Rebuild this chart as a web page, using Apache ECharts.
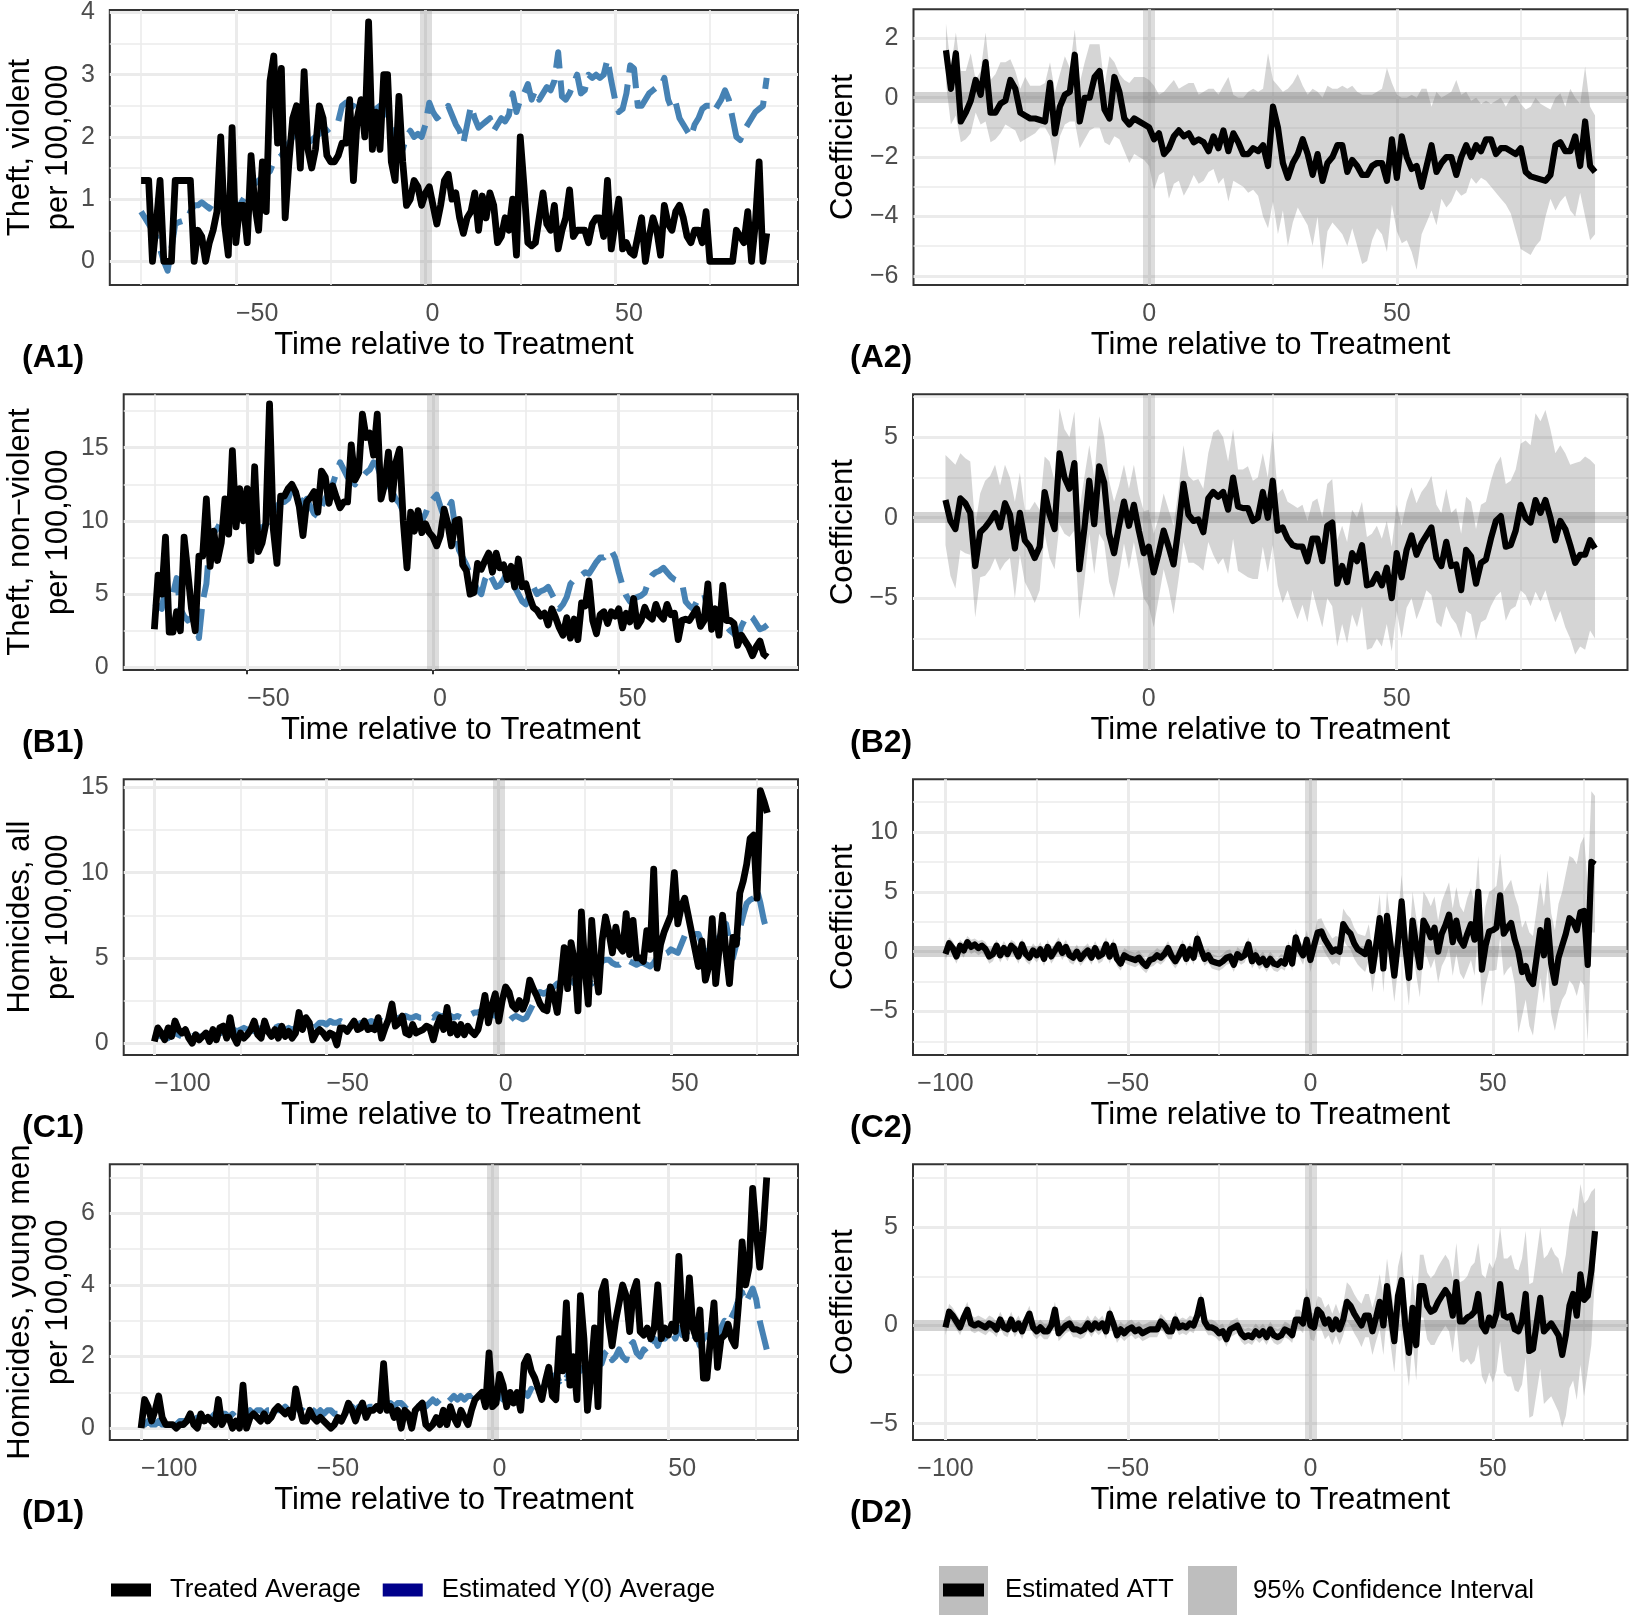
<!DOCTYPE html>
<html><head><meta charset="utf-8">
<script src="https://cdn.jsdelivr.net/npm/echarts@6.0.0/dist/echarts.min.js"></script>
<style>html,body{margin:0;padding:0;background:#fff}#c{width:1630px;height:1618px}</style>
</head><body><div id="c"></div>
<script>
// ---------- DATA ----------
const startLeftAB = -75;   // first period of panels A1, B1
const startRightAB = -41;  // first period of panels A2, B2
const startCD = -100;      // first period of panels C1, C2, D1, D2

const theftViolentTreated = [
1.3,1.3,1.3,0.0,0.6,1.3,0.0,0.0,0.0,1.3,
1.3,1.3,1.3,1.3,0.0,0.5,0.4,0.0,0.3,0.5,
0.8,2.0,0.6,0.1,2.15,0.3,0.9,0.9,0.3,1.7,
0.9,0.5,1.6,0.8,2.9,3.3,1.9,3.1,0.7,1.6,
2.3,2.5,1.5,3.05,1.8,1.5,1.8,2.5,2.3,1.7,
1.6,1.6,1.7,1.9,1.9,2.6,1.3,2.3,2.6,2.0,
3.85,1.8,2.4,1.8,3.0,3.0,1.6,1.3,2.65,1.6,
0.9,1.0,1.3,1.2,0.9,1.1,1.2,0.9,0.6,0.9,
1.3,1.4,1.0,1.1,0.7,0.45,0.7,0.8,1.1,0.5,
1.05,0.7,1.1,0.9,0.3,0.4,0.7,0.5,1.0,0.1,
2.0,1.2,0.3,0.25,0.3,0.7,1.1,0.6,0.5,0.9,
0.2,0.5,0.7,1.15,0.4,0.5,0.5,0.5,0.3,0.6,
0.7,0.7,0.4,1.3,0.2,0.6,1.0,0.2,0.3,0.15,
0.1,0.4,0.7,0.0,0.4,0.7,0.5,0.1,0.9,0.6,
0.5,0.8,0.9,0.7,0.4,0.3,0.5,0.5,0.3,0.8,
0.0,0.0,0.0,0.0,0.0,0.0,0.0,0.5,0.4,0.3,
0.8,0.0,0.6,1.6,0.0,0.45];
const theftViolentY0 = [
0.8,0.7,0.6,0.5,0.4,0.2,0.0,-0.15,0.2,0.6,
0.63,0.65,0.65,0.8,0.9,0.9,0.95,0.9,0.85,0.95,
1.0,0.95,0.9,0.9,0.95,0.9,0.9,1.0,1.1,1.2,
1.25,1.3,1.35,1.4,1.45,1.6,1.65,1.7,1.8,1.9,
2.0,2.1,2.0,1.9,1.9,1.95,2.0,2.05,2.1,2.1,
2.15,2.2,2.25,2.5,2.55,2.5,2.5,2.45,2.4,2.4,
2.35,2.4,2.45,2.5,2.45,2.3,2.2,2.0,1.8,1.8,
2.0,2.1,2.0,2.05,2.0,2.2,2.55,2.4,2.3,2.35,
2.4,2.5,2.35,2.2,2.1,1.9,2.2,2.5,2.3,2.15,
2.2,2.25,2.3,2.1,2.2,2.3,2.25,2.35,2.7,2.4,
2.6,2.7,2.85,2.6,2.75,2.6,2.7,2.8,2.75,2.9,
3.36,2.65,2.6,2.7,2.85,3.0,2.7,2.75,3.0,2.95,
3.0,2.95,3.0,3.25,2.9,2.6,2.4,2.45,2.7,3.15,
3.1,2.5,2.5,2.6,2.7,2.75,2.8,2.8,2.95,2.6,
2.45,2.55,2.3,2.2,2.1,2.0,2.2,2.3,2.45,2.5,
2.5,2.4,2.5,2.6,2.75,2.6,2.3,2.0,1.95,2.1,
2.2,2.3,2.4,2.45,2.5,2.95];
const theftViolentATT = [
1.6,0.3,1.5,-0.8,-0.5,-0.1,0.6,0.1,1.2,-0.5,
-0.5,-0.2,-0.1,0.6,0.3,-0.5,-0.6,-0.7,-0.7,-0.75,
-0.8,0.5,-1.2,-0.3,0.1,0.2,1.45,-0.8,0.0,0.0,
0.7,0.9,-0.4,-0.7,0.7,0.2,-0.7,-0.9,-0.7,-0.8,
-0.9,-1.0,-1.4,-1.2,-1.9,-1.7,-1.3,-1.1,-1.3,-1.2,
-1.5,-1.4,-1.5,-1.8,-1.3,-1.7,-1.1,-1.8,-1.2,-1.5,
-1.9,-1.9,-1.7,-1.8,-1.6,-2.3,-0.3,-1.0,-2.2,-2.7,
-2.2,-1.9,-1.4,-1.9,-2.6,-1.9,-2.8,-2.2,-2.0,-1.6,
-1.6,-2.5,-2.1,-2.3,-2.6,-2.6,-2.3,-2.2,-2.2,-2.8,
-1.4,-2.7,-1.3,-2.0,-2.4,-2.3,-3.0,-2.3,-1.6,-2.5,
-2.2,-2.0,-2.0,-2.6,-2.0,-1.6,-2.0,-1.6,-1.8,-1.4,
-1.4,-1.9,-1.7,-1.7,-1.8,-1.9,-1.7,-2.5,-2.65,-2.7,
-2.75,-2.8,-2.6,-1.6,-1.5,-1.8,-1.8,-1.3,-2.3,-0.8,-2.3,-2.5];
const theftViolentUpper = [
2.5,1.0,2.2,0.9,0.9,1.5,0.6,0.9,2.2,0.6,
0.8,1.2,1.2,1.3,0.9,0.3,0.7,0.4,0.4,0.4,
0.5,1.2,0.2,0.8,1.4,1.0,2.3,0.5,1.2,1.8,
1.8,1.8,0.4,1.4,1.2,0.8,0.6,0.5,0.7,0.7,
0.7,0.6,0.4,0.1,0.2,0.4,0.6,0.3,0.4,0.5,
0.5,0.1,0.2,0.3,0.3,0.1,0.4,0.7,0.1,0.0,
0.0,0.2,0.3,0.2,0.3,1.5,0.6,0.4,0.2,0.3,
0.5,0.8,0.4,0.1,0.3,0.2,0.0,0.4,0.3,0.3,
0.4,0.3,0.4,0.2,0.1,0.1,0.1,0.2,0.3,1.0,
0.5,0.1,0.0,0.0,0.1,0.0,0.3,0.3,-0.3,0.2,
0.0,0.1,0.2,0.6,0.1,0.2,-0.1,0.0,-0.2,-0.1,
-0.2,-0.1,0.0,-0.3,0.0,0.1,-0.2,-0.4,-0.3,0.0,
-0.2,-0.3,-0.4,0.0,0.15,-0.3,0.3,0.0,-0.2,1.05,-0.3,-0.6];
const theftViolentLower = [
0.5,-0.9,-0.6,-1.5,-1.4,-1.2,-0.5,-0.9,-0.8,-1.5,
-1.4,-1.2,-0.9,-1.0,-1.1,-1.5,-1.4,-1.3,-1.2,-1.0,
-1.0,-1.3,-2.3,-1.3,-0.9,-0.8,-0.8,-1.7,-1.4,-1.1,
-1.0,-1.0,-1.5,-1.6,-1.3,-1.4,-1.8,-2.2,-1.9,-2.0,
-2.1,-2.3,-3.1,-2.6,-2.5,-3.4,-2.9,-2.8,-3.3,-3.0,
-2.6,-2.9,-2.8,-2.5,-2.4,-2.9,-2.7,-3.5,-2.8,-2.9,
-3.0,-3.2,-3.1,-3.3,-4.0,-4.4,-3.5,-4.6,-3.8,-5.0,
-4.2,-3.7,-4.0,-4.3,-5.0,-4.0,-5.8,-4.5,-4.2,-4.4,
-4.6,-5.0,-4.4,-5.0,-5.6,-5.5,-4.8,-4.4,-4.6,-5.2,
-3.6,-4.5,-4.9,-4.8,-5.2,-5.8,-4.6,-4.2,-3.8,-4.3,
-3.4,-3.7,-3.5,-3.1,-3.3,-3.2,-2.7,-2.9,-2.7,-2.8,
-3.0,-3.2,-3.4,-3.6,-3.9,-4.5,-5.1,-5.2,-5.3,-5.0,
-4.8,-4.0,-3.4,-3.8,-3.5,-3.3,-3.8,-4.0,-3.2,-4.0,-4.8,-4.6];

const theftNonviolentTreated = [
2.6,6.3,5.0,8.9,2.4,2.4,3.8,2.5,8.9,6.5,
4.0,2.5,7.6,7.6,11.5,6.9,9.3,7.3,8.5,11.5,
9.1,14.8,9.6,12.2,10.0,12.2,7.3,13.7,7.9,8.5,
9.8,18.0,9.5,7.1,11.7,11.7,12.2,12.5,12.0,11.0,
9.0,11.3,11.6,12.0,10.6,13.4,13.0,11.2,12.4,11.6,
10.9,11.3,11.3,15.2,12.8,13.3,17.3,15.7,16.0,14.5,
17.3,11.5,12.5,14.7,11.5,14.0,14.9,10.0,6.8,10.6,
9.3,10.7,9.2,9.8,9.2,8.9,8.3,9.0,10.8,9.8,
8.3,10.0,10.1,7.0,6.6,5.0,5.1,7.1,6.7,7.3,
7.8,6.5,7.8,6.8,7.0,6.0,6.9,5.5,7.4,5.5,
5.7,4.8,4.1,3.9,3.5,3.7,2.9,4.0,3.4,2.7,
2.2,3.4,2.0,3.3,1.9,4.4,4.2,5.9,3.2,2.3,
3.6,3.8,3.0,3.8,3.5,4.0,2.7,3.7,3.1,4.7,
2.8,3.2,4.1,3.5,3.3,4.3,3.6,3.3,4.3,3.6,
3.7,1.9,3.2,3.3,3.2,3.6,4.0,2.8,3.2,5.7,
2.6,4.0,2.2,5.6,3.2,3.2,3.0,1.5,2.2,1.8,
1.4,0.8,1.4,1.8,0.9,0.7];
const theftNonviolentY0 = [
4.4,4.2,4.0,5.5,5.2,5.0,6.1,4.0,3.5,3.2,
3.4,3.5,2.0,4.5,5.7,8.9,9.2,9.5,10.0,10.5,
10.2,10.5,10.0,10.8,11.0,10.5,10.0,9.8,9.6,9.5,
9.8,10.0,10.5,11.0,11.3,11.3,11.5,12.2,12.0,11.6,
11.2,11.5,11.0,10.5,10.3,11.0,11.5,12.0,12.5,13.3,
14.0,13.5,13.0,12.8,12.5,12.8,13.0,13.3,13.5,14.0,
13.8,13.0,12.5,12.5,12.0,11.5,11.2,10.6,10.0,9.5,
9.8,10.0,10.0,10.5,11.2,11.5,11.8,11.0,10.2,10.8,
11.3,9.5,8.0,7.5,7.0,6.3,5.8,5.3,5.0,6.0,
6.5,6.0,5.5,5.6,6.0,6.5,6.0,5.5,5.0,4.5,
4.3,5.0,5.5,5.0,5.2,5.3,5.5,5.0,4.5,4.0,
4.3,4.8,5.7,6.0,6.1,6.3,6.5,6.4,6.8,7.2,
7.5,7.5,7.8,8.0,7.5,6.5,5.6,4.9,4.5,4.7,
4.8,4.9,5.1,5.9,6.3,6.5,6.6,6.8,6.5,6.2,
6.0,5.9,5.8,4.5,4.2,4.0,4.5,4.8,5.0,4.0,
3.6,3.3,3.0,3.0,2.8,2.5,2.3,2.0,2.8,3.3,
3.6,3.4,3.0,2.6,2.7,2.9];
const theftNonviolentATT = [
1.1,-0.2,-0.7,1.2,0.9,0.3,-3.0,-0.9,-0.6,-0.2,
0.3,-0.6,0.9,0.2,-1.9,0.3,-1.4,-1.8,-2.5,-1.8,
1.6,0.2,-0.7,4.0,2.5,1.8,3.4,-3.2,-0.7,2.3,
-0.4,3.2,2.2,-1.0,-2.2,-0.5,1.0,-0.5,0.8,-0.8,
-2.2,-1.8,-3.4,-2.2,-0.8,-1.8,-2.9,-0.6,2.1,0.2,
-0.2,-0.1,-0.9,1.2,1.6,1.3,1.6,0.5,2.5,0.7,
0.6,0.6,-0.2,0.0,1.6,0.0,2.3,-0.8,-0.6,-1.3,
-1.7,-1.8,-1.8,-2.7,-1.3,-1.3,-2.7,-0.5,-0.3,-4.1,
-3.0,-4.0,-2.2,-2.7,-1.7,-4.2,-4.1,-3.5,-4.2,-3.1,
-5.0,-2.2,-3.7,-2.0,-1.1,-2.3,-1.6,-1.1,-0.6,-2.5,
-3.0,-1.5,-3.0,-2.9,-4.5,-2.0,-2.4,-4.1,-2.8,-2.6,
-1.3,-0.2,0.1,-1.8,-1.7,-0.8,0.8,0.0,-0.3,1.1,
0.3,1.1,0.0,-1.4,-0.2,-0.7,-1.7,-2.8,-2.3,-2.3,-1.4,-1.9];
const theftNonviolentUpper = [
3.9,3.6,3.3,4.0,3.7,3.5,-0.5,1.5,2.3,2.6,
3.3,2.0,3.3,2.5,1.0,2.8,0.5,0.5,1.0,0.5,
3.8,3.5,2.3,6.8,5.5,5.0,6.6,0.5,2.5,4.5,
2.5,6.3,5.0,2.3,1.0,2.0,3.3,1.8,3.3,1.5,
0.4,0.5,-1.0,0.0,1.5,0.5,-0.5,1.8,4.5,2.6,
2.3,2.4,1.8,4.0,5.3,5.5,5.0,3.5,5.5,3.0,
3.0,3.2,2.3,2.5,4.0,2.5,5.4,1.5,1.8,1.0,
0.8,0.6,0.8,-0.2,1.0,1.2,0.0,2.1,2.4,-1.4,
-0.5,-1.5,0.5,0.0,1.0,-1.2,-1.0,-0.5,-1.3,-0.2,
-1.8,0.8,-0.5,1.0,1.9,0.9,1.6,2.0,2.6,0.8,
0.3,1.8,0.3,0.6,-1.0,1.3,1.0,-0.7,0.8,1.0,
2.3,3.3,3.8,2.1,2.3,3.0,4.6,4.8,4.5,6.5,
6.0,6.7,5.5,4.0,4.5,4.0,3.3,3.4,3.5,3.8,3.6,3.3];
const theftNonviolentLower = [
-1.7,-3.6,-4.4,-2.0,-2.2,-2.3,-6.2,-3.7,-3.6,-3.2,
-2.5,-3.3,-2.8,-2.5,-5.0,-2.3,-4.0,-4.6,-5.3,-4.5,
-1.0,-2.5,-3.2,-0.4,-1.0,-1.2,-0.8,-6.3,-4.0,-1.0,
-3.5,-1.0,-1.5,-4.0,-5.0,-3.5,-1.6,-3.2,-1.5,-3.2,
-5.0,-5.5,-6.8,-5.0,-3.2,-4.4,-6.0,-3.8,-1.5,-2.8,
-2.8,-3.0,-3.3,-1.5,-2.3,-2.9,-2.5,-3.5,-1.3,-3.3,
-3.5,-3.7,-3.8,-3.8,-1.8,-3.4,-1.7,-4.2,-5.3,-4.5,
-5.5,-6.3,-5.4,-6.5,-4.5,-5.7,-6.8,-5.0,-5.5,-8.0,
-6.6,-7.8,-6.0,-6.8,-5.5,-8.2,-8.1,-7.5,-8.0,-6.6,
-8.3,-5.8,-7.5,-5.6,-5.0,-6.3,-5.5,-4.5,-4.8,-6.5,
-6.8,-5.5,-6.2,-6.6,-7.5,-5.8,-6.0,-7.6,-6.5,-6.3,
-5.5,-4.9,-4.6,-6.4,-5.7,-5.5,-4.5,-4.8,-5.5,-4.6,
-5.2,-4.5,-5.6,-6.5,-5.8,-6.8,-7.5,-8.5,-8.0,-8.2,-7.0,-7.5];

const homicidesAllTreated = [
0.1,0.9,0.6,0.2,0.9,0.4,1.3,0.8,0.6,0.8,
0.3,0.0,0.5,0.2,0.4,0.6,0.1,0.8,0.2,0.9,
1.0,0.3,1.5,0.4,0.0,0.6,0.3,0.5,0.8,1.3,
0.5,0.3,1.3,0.7,0.4,0.8,0.3,1.0,0.4,0.7,
0.3,0.6,1.8,0.8,1.5,1.2,0.2,0.6,0.8,0.6,
0.3,0.6,0.5,-0.1,0.9,0.9,0.7,1.0,1.3,0.8,
0.9,1.3,0.8,0.9,0.8,1.5,0.3,0.9,1.4,2.3,
1.0,1.2,1.6,0.6,0.5,1.1,0.6,0.7,0.8,1.0,
0.9,0.2,1.0,1.5,0.8,2.1,0.6,1.1,0.5,1.1,
0.5,1.0,0.7,0.5,0.8,1.7,2.8,1.2,2.2,2.9,
1.3,2.5,3.3,3.0,2.2,2.0,2.5,2.0,2.5,3.7,
3.2,2.8,2.3,2.0,1.9,3.3,2.8,1.8,3.6,5.6,
3.2,5.9,4.8,1.9,7.7,4.5,2.3,7.2,4.5,3.0,
6.0,7.4,6.5,5.3,6.8,5.7,5.4,7.6,5.2,7.2,
5.0,5.0,4.8,6.6,5.5,10.2,4.4,5.8,6.5,7.0,
7.5,10.0,7.0,8.0,8.5,7.5,6.5,5.5,4.5,6.0,
3.7,4.5,7.3,3.5,5.5,7.5,5.3,3.5,6.2,5.8,
8.8,9.5,10.5,12.0,12.2,8.5,14.8,14.2,13.5];
const homicidesAllY0 = [
0.3,0.5,0.4,0.4,0.3,0.5,0.6,0.5,0.4,0.4,
0.3,0.4,0.5,0.4,0.4,0.5,0.5,0.6,0.5,0.6,
0.6,0.7,0.7,0.8,0.7,0.8,0.9,0.8,0.8,0.7,
0.8,0.9,0.9,1.0,0.9,0.9,1.0,0.8,0.8,0.9,
0.8,0.9,1.0,1.0,0.9,0.9,0.9,1.0,1.2,1.2,
1.1,1.3,1.2,1.2,1.3,1.2,1.2,1.3,1.2,1.1,
1.2,1.1,1.2,1.3,1.2,1.3,1.3,1.2,1.3,1.4,
1.4,1.5,1.4,1.6,1.5,1.5,1.6,1.5,1.5,1.6,
1.6,1.5,1.7,1.6,1.6,1.7,1.6,1.5,1.6,1.5,
1.5,1.6,1.7,1.8,1.8,1.9,1.9,1.8,1.7,1.6,
1.5,1.4,1.2,1.3,1.5,1.6,1.5,1.4,1.5,1.9,
2.3,2.7,3.0,2.9,3.0,3.2,3.3,3.5,3.5,3.8,
4.0,3.7,3.5,3.8,4.0,4.0,3.7,3.5,4.0,4.5,
4.8,4.9,4.9,4.7,4.6,4.6,4.8,4.9,4.8,4.7,
4.6,4.7,4.7,4.6,4.5,4.7,5.0,5.1,5.2,5.3,
5.5,5.4,5.3,5.8,6.3,6.5,6.5,6.4,6.4,5.8,
5.2,5.5,6.0,6.1,6.2,6.6,7.0,6.0,5.0,5.8,
6.7,7.5,8.2,8.4,8.5,9.0,8.2,7.2,6.5];
const homicidesAllATT = [
-0.2,0.7,0.3,-0.4,0.5,0.1,0.8,0.4,0.6,0.3,
0.5,0.2,-0.4,-0.2,0.5,-0.3,0.3,-0.2,0.5,0.2,
-0.4,0.6,-0.2,-0.5,0.1,-0.3,0.2,-0.6,0.4,-0.4,
0.1,0.6,-0.1,0.4,-0.3,-0.5,0.0,-0.6,-0.2,0.1,
-0.5,0.3,-0.4,-0.2,0.6,-0.4,0.5,-0.6,-1.0,-0.3,
-0.5,-0.6,-0.7,-0.5,-0.9,-1.2,-0.7,-0.6,-0.3,-0.5,
-0.2,0.3,-0.4,-0.8,-0.3,0.4,-0.6,0.2,-0.5,1.1,
0.2,-0.6,-0.3,-0.8,-0.9,-1.0,-0.8,-0.5,-0.4,-1.1,
-0.2,-0.5,-0.3,0.6,-0.8,-0.3,-0.9,-0.6,-1.1,-0.6,
-1.0,-1.1,-0.8,-1.0,0.3,-1.0,1.2,0.2,-0.3,1.0,
-0.7,0.5,1.6,1.7,1.0,0.5,0.0,0.2,0.0,2.3,
1.8,1.5,0.7,0.2,0.0,-0.2,0.8,-1.6,0.5,2.8,
-1.4,3.0,0.5,-2.0,0.8,4.2,0.5,-2.2,2.6,0.5,
-1.3,2.6,2.0,1.2,2.0,0.0,1.5,2.2,3.1,0.8,
2.6,1.0,0.5,1.5,2.3,1.0,5.0,-1.5,0.5,1.7,
1.8,2.0,4.7,1.5,2.0,2.4,1.0,0.0,-1.7,-1.2,
-2.3,-2.7,-0.5,1.8,-0.3,2.6,-1.0,-2.6,-0.5,0.5,
1.5,2.8,2.5,1.8,3.3,3.4,-1.1,7.5,7.3];
const homicidesAllUpper = [
0.3,1.2,0.9,0.2,1.0,0.7,1.3,1.0,1.1,0.9,
1.0,0.8,0.2,0.4,1.0,0.3,0.9,0.4,1.0,0.8,
0.2,1.1,0.4,0.1,0.7,0.3,0.8,0.0,1.0,0.2,
0.7,1.2,0.5,1.0,0.3,0.1,0.6,0.0,0.4,0.7,
0.1,0.9,0.2,0.4,1.2,0.2,1.1,0.0,-0.4,0.3,
0.1,0.0,-0.1,0.1,-0.3,-0.6,-0.1,0.0,0.3,0.1,
0.4,0.9,0.2,-0.2,0.3,1.0,0.0,0.8,0.1,1.8,
0.8,0.0,0.3,-0.2,-0.3,-0.4,-0.2,0.1,0.2,-0.5,
0.4,0.1,0.3,1.2,-0.2,0.3,-0.3,0.0,-0.5,0.0,
-0.4,-0.5,-0.2,-0.4,0.9,-0.4,1.9,0.9,0.5,1.8,
0.3,1.5,2.7,2.8,2.1,1.6,1.1,1.3,1.2,3.6,
3.1,2.8,2.0,1.5,1.4,1.3,2.3,0.2,2.4,4.8,
0.6,5.0,2.6,0.2,3.0,6.4,2.8,0.2,5.0,2.9,
1.2,5.0,4.5,3.8,4.6,2.6,4.2,5.0,5.8,3.6,
5.4,3.8,3.3,4.5,5.3,4.0,8.0,1.6,3.8,5.0,
5.2,5.5,8.2,5.0,5.5,6.0,4.7,3.8,2.0,2.6,
1.6,1.3,3.5,5.8,3.8,6.8,3.2,1.8,4.0,5.0,
6.5,8.0,7.8,7.3,9.0,9.6,5.5,13.4,13.0];
const homicidesAllLower = [
-0.7,0.2,-0.3,-1.0,-0.1,-0.5,0.3,-0.2,0.0,-0.3,
-0.1,-0.4,-1.0,-0.8,-0.1,-0.9,-0.3,-0.8,-0.1,-0.4,
-1.0,0.0,-0.8,-1.1,-0.5,-0.9,-0.4,-1.2,-0.2,-1.0,
-0.5,0.0,-0.7,-0.2,-0.9,-1.1,-0.6,-1.2,-0.8,-0.5,
-1.1,-0.3,-1.0,-0.8,0.0,-1.0,-0.1,-1.2,-1.6,-0.9,
-1.1,-1.2,-1.3,-1.1,-1.5,-1.8,-1.3,-1.2,-0.9,-1.1,
-0.8,-0.3,-1.0,-1.4,-0.9,-0.2,-1.2,-0.4,-1.1,0.4,
-0.4,-1.2,-0.9,-1.4,-1.5,-1.6,-1.4,-1.1,-1.0,-1.7,
-0.8,-1.1,-0.9,0.0,-1.4,-0.9,-1.5,-1.2,-1.7,-1.2,
-1.6,-1.7,-1.4,-1.6,-0.3,-1.6,0.5,-0.5,-1.1,0.2,
-1.7,-0.5,0.5,0.6,-0.1,-0.6,-1.1,-0.9,-1.2,1.0,
0.5,0.2,-0.6,-1.1,-1.4,-1.7,-0.7,-3.4,-1.4,0.8,
-3.4,1.0,-1.6,-4.2,-1.4,2.0,-1.8,-4.5,0.2,-1.9,
-3.8,0.2,-0.5,-1.4,-0.6,-2.6,-1.2,-0.6,0.4,-2.0,
-0.2,-1.8,-2.3,-1.5,-0.7,-2.0,2.0,-4.6,-2.8,-1.6,
-1.6,-1.5,1.2,-2.0,-1.5,-1.2,-2.7,-6.8,-5.4,-4.0,
-6.2,-7.0,-4.5,-2.2,-4.3,-1.4,-5.2,-6.6,-5.0,-4.0,
-3.5,-2.4,-2.8,-3.7,-2.4,-2.8,-7.5,1.6,1.6];

const homicidesYoungTreated = [
0.0,0.8,0.6,0.2,0.5,0.9,0.3,0.1,0.1,0.1,
0.0,0.1,0.1,0.2,0.4,0.1,0.0,0.4,0.2,0.3,
0.2,0.1,0.8,0.1,0.3,0.3,0.0,0.2,0.0,1.2,
0.0,0.3,0.4,0.3,0.2,0.4,0.2,0.3,0.5,0.6,
0.5,0.4,0.5,0.3,1.1,0.6,0.2,0.2,0.5,0.3,
0.2,0.3,0.2,0.1,0.0,0.1,0.3,0.2,0.4,0.7,
0.5,0.2,0.5,0.7,0.3,0.5,0.5,0.6,0.5,1.8,
0.5,0.6,0.3,0.5,0.0,0.5,0.4,0.0,0.5,0.6,
0.7,0.1,0.0,0.1,0.3,0.1,0.5,0.1,0.6,0.3,
0.1,0.5,0.3,0.1,0.5,0.8,0.9,1.0,0.6,2.1,
0.6,0.7,1.5,1.2,0.6,1.0,0.7,1.0,0.5,1.8,
2.0,1.6,1.4,1.1,0.8,1.3,1.7,0.9,0.8,2.5,
1.6,3.5,1.2,2.0,0.8,3.7,2.5,0.5,1.5,2.8,
0.6,3.8,4.1,3.0,2.3,3.0,3.5,4.0,3.7,2.7,
3.8,4.1,2.7,2.6,2.8,2.5,2.8,4.0,2.5,2.8,
2.6,2.9,2.7,4.8,3.0,2.5,4.2,2.8,2.5,3.3,
1.4,1.4,2.5,3.5,1.7,2.5,2.6,2.9,2.5,2.3,
3.5,5.2,4.0,4.5,6.7,5.5,4.5,5.5,7.0];
const homicidesYoungY0 = [
0.1,0.1,0.2,0.1,0.1,0.2,0.1,0.1,0.1,0.2,
0.1,0.2,0.2,0.2,0.3,0.2,0.3,0.3,0.3,0.4,
0.3,0.4,0.3,0.4,0.4,0.3,0.4,0.3,0.4,0.4,
0.4,0.5,0.4,0.5,0.5,0.4,0.5,0.5,0.6,0.5,
0.5,0.6,0.5,0.5,0.6,0.5,0.5,0.4,0.5,0.5,
0.4,0.5,0.4,0.5,0.5,0.4,0.4,0.5,0.5,0.5,
0.6,0.5,0.6,0.6,0.5,0.6,0.6,0.5,0.6,0.6,
0.6,0.7,0.6,0.7,0.7,0.6,0.7,0.7,0.6,0.6,
0.7,0.6,0.7,0.8,0.7,0.8,0.8,0.7,0.8,0.9,
0.8,0.9,0.8,0.9,0.9,1.0,0.9,0.9,1.0,0.9,
0.9,1.0,0.9,0.8,0.9,0.8,0.8,0.9,0.8,1.0,
0.9,1.1,1.0,1.2,1.1,1.2,1.3,1.4,1.5,1.3,
1.5,1.4,1.6,1.5,1.7,1.6,1.8,1.7,1.8,1.9,
2.0,1.8,2.1,2.2,1.9,2.0,2.2,2.0,1.9,2.3,
2.4,2.1,2.0,2.2,2.1,2.4,2.5,2.3,2.6,2.5,
2.6,2.7,2.5,2.8,2.6,2.7,2.5,2.4,2.6,2.3,
2.5,2.6,2.4,2.7,2.5,2.8,3.0,2.9,3.1,3.3,
3.6,3.8,3.5,3.7,3.9,3.6,3.0,2.6,2.2];
const homicidesYoungATT = [
-0.1,0.7,0.5,0.2,-0.1,0.4,0.8,0.1,0.0,0.1,
0.0,-0.1,0.1,0.0,-0.2,0.3,-0.1,-0.2,0.3,-0.2,
0.1,-0.3,0.2,0.6,-0.1,-0.3,-0.1,-0.3,-0.3,0.0,
0.8,-0.4,-0.2,0.0,0.1,-0.2,-0.2,-0.3,-0.2,0.1,
-0.2,0.1,-0.1,0.1,-0.3,0.6,0.1,-0.5,-0.2,-0.4,
-0.2,-0.1,-0.3,-0.2,-0.4,-0.3,-0.2,-0.2,-0.2,0.2,
0.0,-0.3,-0.3,0.3,-0.1,0.0,-0.1,0.1,0.0,0.5,
1.3,0.2,-0.1,-0.1,-0.2,-0.4,-0.3,-0.7,-0.2,-0.1,
0.0,-0.4,-0.6,-0.5,-0.6,-0.3,-0.5,-0.3,-0.6,-0.2,
-0.5,-0.6,-0.5,-0.2,-0.3,-0.5,0.3,0.3,0.1,1.3,
0.0,-0.1,0.8,0.6,0.1,0.3,-0.2,0.3,-0.2,0.3,
1.2,1.0,0.6,0.3,0.0,0.5,0.5,-0.3,0.4,1.2,
0.0,2.0,0.5,-0.8,1.5,2.3,0.0,-1.4,0.9,-1.0,
2.0,2.0,1.0,0.7,0.8,1.2,1.5,1.8,1.5,0.5,
2.2,0.2,0.2,0.4,0.5,0.7,1.6,0.0,-0.3,0.4,
0.0,0.6,2.1,0.5,0.4,0.5,-0.2,-0.3,0.2,1.6,
-1.3,-1.2,0.1,1.4,-0.3,-0.1,0.1,-0.2,-0.5,-1.5,
-0.5,1.0,1.6,0.5,2.6,1.3,1.5,2.8,4.8];
const homicidesYoungUpper = [
0.3,1.1,0.9,0.6,0.3,0.8,1.2,0.5,0.4,0.5,
0.4,0.3,0.5,0.4,0.2,0.7,0.3,0.2,0.7,0.2,
0.5,0.1,0.6,1.0,0.3,0.1,0.3,0.1,0.1,0.4,
1.2,0.0,0.2,0.4,0.5,0.2,0.2,0.1,0.2,0.5,
0.2,0.5,0.3,0.5,0.1,1.0,0.5,-0.1,0.2,0.0,
0.2,0.3,0.1,0.2,0.0,0.1,0.2,0.2,0.2,0.6,
0.4,0.1,0.1,0.7,0.3,0.4,0.3,0.5,0.4,0.9,
1.7,0.6,0.3,0.3,0.2,0.0,0.1,-0.3,0.2,0.3,
0.4,0.0,-0.2,-0.1,-0.2,0.1,-0.1,0.1,-0.2,0.2,
-0.1,-0.2,-0.1,0.2,0.1,-0.1,0.8,0.8,0.6,1.9,
0.7,0.6,1.5,1.4,0.9,1.1,0.6,1.1,0.6,1.1,
2.2,2.0,1.6,1.3,1.1,1.6,1.6,0.9,1.6,2.6,
1.5,3.4,2.0,0.8,3.0,3.8,1.6,0.3,2.6,0.8,
3.6,3.6,2.7,2.4,2.6,3.0,3.3,3.6,3.3,2.4,
4.2,2.2,2.3,2.5,3.0,3.2,4.2,2.6,2.4,3.2,
2.9,3.5,5.0,3.4,3.4,3.6,2.9,2.8,3.4,4.8,
2.1,2.2,3.6,5.0,3.4,3.6,4.0,3.6,3.4,2.6,
3.6,5.2,6.0,5.5,7.2,6.2,6.4,6.8,7.0];
const homicidesYoungLower = [
-0.5,0.3,0.1,-0.2,-0.5,0.0,0.4,-0.3,-0.4,-0.3,
-0.4,-0.5,-0.3,-0.4,-0.6,-0.1,-0.5,-0.6,-0.1,-0.6,
-0.3,-0.7,-0.2,0.2,-0.5,-0.7,-0.5,-0.7,-0.7,-0.4,
0.4,-0.8,-0.6,-0.4,-0.3,-0.6,-0.6,-0.7,-0.6,-0.3,
-0.6,-0.3,-0.5,-0.3,-0.7,0.2,-0.3,-0.9,-0.6,-0.8,
-0.6,-0.5,-0.7,-0.6,-0.8,-0.7,-0.6,-0.6,-0.6,-0.2,
-0.4,-0.7,-0.7,-0.1,-0.5,-0.4,-0.5,-0.3,-0.4,0.1,
0.9,-0.2,-0.5,-0.5,-0.6,-0.8,-0.7,-1.1,-0.6,-0.5,
-0.4,-0.8,-1.0,-0.9,-1.0,-0.7,-0.9,-0.7,-1.0,-0.6,
-0.9,-1.0,-0.9,-0.6,-0.7,-0.9,-0.2,-0.2,-0.4,0.7,
-0.7,-0.8,0.0,-0.2,-0.7,-0.5,-1.0,-0.5,-1.0,-0.5,
0.2,0.0,-0.4,-0.7,-1.1,-0.6,-0.6,-1.5,-0.8,-0.2,
-1.5,0.6,-1.0,-2.4,0.0,0.8,-1.6,-3.1,-0.8,-2.8,
0.4,0.4,-0.7,-1.0,-1.0,-0.6,-0.3,0.0,-0.3,-1.4,
0.2,-1.8,-1.9,-1.7,-2.0,-1.8,-1.0,-2.6,-3.0,-2.4,
-2.9,-2.3,-0.8,-2.4,-2.6,-2.6,-3.3,-3.4,-3.0,-1.6,
-4.7,-4.6,-3.4,-2.2,-4.0,-3.8,-3.6,-4.0,-4.4,-5.2,
-4.6,-3.2,-2.8,-3.8,-2.0,-3.6,-2.3,-1.0,2.6];

// tick labels
const xTicksAB = [-50, 0, 50];
const xTicksCD = [-100, -50, 0, 50];
const xMinorTicks = [-75, -25, 25, 75];
const xTitle = 'Time relative to Treatment';
const yTitleRight = 'Coefficient';
const legendLeftNames = ['Treated Average', 'Estimated Y(0) Average'];
const legendRightNames = ['Estimated ATT', '95% Confidence Interval'];

// ---------- LAYOUT / STYLE ----------
const FONT = '"Liberation Sans", Arial, Helvetica, sans-serif';
const panels = [
 {id:'(A1)', kind:'L', box:[104.5, 9.3, 798, 285], x:[-83.25, 98.25], y:[-0.38, 4.04], xt:xTicksAB, yt:[0,1,2,3,4], ym:[0.5,1.5,2.5,3.5],
  name:'Theft, violent\nper 100,000', start:startLeftAB, a:theftViolentTreated, b:theftViolentY0},
 {id:'(A2)', kind:'R', box:[913.5, 9.3, 1627.5, 285], x:[-47.55, 96.55], y:[-6.31, 2.98], xt:[0,50], yt:[-6,-4,-2,0,2], ym:[-5,-3,-1,1],
  start:startRightAB, att:theftViolentATT, up:theftViolentUpper, lo:theftViolentLower},
 {id:'(B1)', kind:'L', box:[118.4, 394.3, 798, 670], x:[-83.25, 98.25], y:[-0.18, 18.65], xt:xTicksAB, yt:[0,5,10,15], ym:[2.5,7.5,12.5,17.5],
  name:'Theft, non\u2212violent\nper 100,000', start:startLeftAB, a:theftNonviolentTreated, b:theftNonviolentY0},
 {id:'(B2)', kind:'R', box:[913, 394.3, 1627.5, 670], x:[-47.55, 96.55], y:[-9.46, 7.67], xt:[0,50], yt:[-5,0,5], ym:[-7.5,-2.5,2.5,7.5],
  start:startRightAB, att:theftNonviolentATT, up:theftNonviolentUpper, lo:theftNonviolentLower},
 {id:'(C1)', kind:'L', box:[118.4, 779.3, 798, 1055], x:[-108.9, 86.9], y:[-0.69, 15.47], xt:xTicksCD, yt:[0,5,10,15], ym:[2.5,7.5,12.5],
  name:'Homicides, all\nper 100,000', start:startCD, a:homicidesAllTreated, b:homicidesAllY0},
 {id:'(C2)', kind:'R', box:[913, 779.3, 1627.5, 1055], x:[-108.9, 86.9], y:[-8.63, 14.4], xt:xTicksCD, yt:[-5,0,5,10], ym:[-7.5,-2.5,2.5,7.5,12.5],
  start:startCD, att:homicidesAllATT, up:homicidesAllUpper, lo:homicidesAllLower},
 {id:'(D1)', kind:'L', box:[104.6, 1164.3, 798, 1440], x:[-108.9, 86.9], y:[-0.33, 7.37], xt:xTicksCD, yt:[0,2,4,6], ym:[1,3,5,7],
  name:'Homicides, young men\nper 100,000', start:startCD, a:homicidesYoungTreated, b:homicidesYoungY0},
 {id:'(D2)', kind:'R', box:[913, 1164.3, 1627.5, 1440], x:[-108.9, 86.9], y:[-5.83, 8.2], xt:xTicksCD, yt:[-5,0,5], ym:[-2.5,2.5,7.5],
  start:startCD, att:homicidesYoungATT, up:homicidesYoungUpper, lo:homicidesYoungLower}
];

const fmt = v => (v < 0 ? '\u2212' + Math.abs(v) : String(v));
const pairs = (start, arr) => arr.map((v, i) => [start + i, v]);
const mlBase = {silent: true, symbol: ['none','none'], label: {show: false}, emphasis: {disabled: true}, animation: false};

function gridMarkLines(p) {
  const d = [];
  xMinorTicks.filter(v => v > p.x[0] && v < p.x[1]).forEach(v => d.push({xAxis: v, lineStyle: {width: 1.6, type: 'solid', color: '#ebebeb'}}));
  p.ym.filter(v => v > p.y[0] && v < p.y[1]).forEach(v => d.push({yAxis: v, lineStyle: {width: 1.6, type: 'solid', color: '#ebebeb'}}));
  p.xt.forEach(v => d.push({xAxis: v, lineStyle: {width: 3, type: 'solid', color: '#ebebeb'}}));
  p.yt.forEach(v => d.push({yAxis: v, lineStyle: {width: 3, type: 'solid', color: '#ebebeb'}}));
  return Object.assign({}, mlBase, {z: 1, lineStyle: {color: '#ebebeb', type: 'solid', width: 3}, data: d});
}

const grids = [], xAxes = [], yAxes = [], series = [], graphics = [];
panels.forEach((p, i) => {
  const [l, t, r, b] = p.box;
  const isL = p.kind === 'L';
  grids.push({left: l, top: t, width: r - l, height: b - t, show: true, borderColor: '#333333', borderWidth: 2,
              backgroundColor: '#ffffff', containLabel: false});
  xAxes.push({gridIndex: i, type: 'value', min: p.x[0], max: p.x[1],
    axisLine: {show: false}, splitLine: {show: false},
    axisTick: {show: true, customValues: p.xt, length: 7, lineStyle: {color: '#333333', width: 2}},
    axisLabel: {customValues: p.xt, formatter: fmt, fontSize: 25, color: '#4d4d4d', fontFamily: FONT, margin: 17,
                align: isL ? 'left' : 'center'},
    name: xTitle, nameLocation: 'middle', nameGap: 43,
    nameTextStyle: {fontSize: 31, color: '#000000', fontFamily: FONT, lineHeight: 34}});
  yAxes.push({gridIndex: i, type: 'value', min: p.y[0], max: p.y[1],
    axisLine: {show: false}, splitLine: {show: false},
    axisTick: {show: true, customValues: p.yt, length: 7, lineStyle: {color: '#333333', width: 2}},
    axisLabel: {customValues: p.yt, formatter: fmt, fontSize: 25, color: '#4d4d4d', fontFamily: FONT, margin: 15},
    name: isL ? p.name : yTitleRight, nameLocation: 'middle', nameRotate: 90,
    nameGap: isL ? (l - 74) : (l - 862),
    nameTextStyle: {fontSize: 31, color: '#000000', fontFamily: FONT, lineHeight: 38, align: 'center'}});

  // gridlines
  series.push({type: 'line', xAxisIndex: i, yAxisIndex: i, data: [], silent: true, z: 1, markLine: gridMarkLines(p)});

  const bandData = [{xAxis: 0, lineStyle: {width: 12, type: 'solid', color: 'rgba(128,128,128,0.27)'}}];
  if (!isL) bandData.push({yAxis: 0, lineStyle: {width: 11, type: 'solid', color: 'rgba(110,110,110,0.30)'}});

  if (isL) {
    series.push({type: 'line', xAxisIndex: i, yAxisIndex: i, data: [], silent: true, z: 2,
      markLine: Object.assign({}, mlBase, {z: 2, lineStyle: {type: 'solid'}, data: bandData})});
    series.push({name: legendLeftNames[1], type: 'line', xAxisIndex: i, yAxisIndex: i, data: pairs(p.start, p.b),
      symbol: 'none', showSymbol: false, silent: true, z: 3, animation: false,
      lineStyle: {color: '#4682b4', width: 6, type: [32, 12], cap: 'butt', join: 'round'}, itemStyle: {color: '#4682b4'}});
    series.push({name: legendLeftNames[0], type: 'line', xAxisIndex: i, yAxisIndex: i, data: pairs(p.start, p.a),
      symbol: 'none', showSymbol: false, silent: true, z: 4, animation: false,
      lineStyle: {color: '#000000', width: 6.8, join: 'round'}, itemStyle: {color: '#000000'}});
  } else {
    const ciData = p.lo.map((v, k) => [p.start + k, v, p.up[k]]);
    series.push({name: legendRightNames[1], type: 'custom', xAxisIndex: i, yAxisIndex: i, data: ciData,
      encode: {x: 0, y: [1, 2]}, silent: true, z: 2, animation: false, itemStyle: {color: '#bebebe'},
      renderItem: (params, api) => {
        if (params.dataIndex !== 0) return null;
        const pts = [];
        for (let k = 0; k < ciData.length; k++) pts.push(api.coord([ciData[k][0], ciData[k][2]]));
        for (let k = ciData.length - 1; k >= 0; k--) pts.push(api.coord([ciData[k][0], ciData[k][1]]));
        return {type: 'polygon', shape: {points: pts}, style: {fill: 'rgba(128,128,128,0.33)', stroke: null}};
      }});
    series.push({type: 'line', xAxisIndex: i, yAxisIndex: i, data: [], silent: true, z: 3,
      markLine: Object.assign({}, mlBase, {z: 3, lineStyle: {type: 'solid'}, data: bandData})});
    series.push({name: legendRightNames[0], type: 'line', xAxisIndex: i, yAxisIndex: i, data: pairs(p.start, p.att),
      symbol: 'none', showSymbol: false, silent: true, z: 4, animation: false,
      lineStyle: {color: '#000000', width: 6.2, join: 'round'}, itemStyle: {color: '#000000'}});
  }
  // panel tag
  graphics.push({type: 'text', x: isL ? 22 : 850, y: b + 73, z: 10,
    style: {text: p.id, fontSize: 32, fontWeight: 'bold', fontFamily: FONT, fill: '#000000', verticalAlign: 'middle', align: 'left'}});
});

// legend key backgrounds (grey boxes of the right legend)
graphics.push({type: 'rect', shape: {x: 939, y: 1566, width: 49, height: 49}, style: {fill: '#bebebe'}, z: 0});
graphics.push({type: 'rect', shape: {x: 1188, y: 1566, width: 49, height: 49}, style: {fill: '#bebebe'}, z: 0});

const legTxt = (pad) => ({fontSize: 25.8, color: '#000000', fontFamily: FONT, padding: [0, 0, 0, pad]});
const legends = [
  {left: 111, top: 1577, padding: 0, itemWidth: 40, itemHeight: 13, itemGap: 22, icon: 'rect', selectedMode: false, z: 5,
   textStyle: legTxt(14),
   data: [
     {name: legendLeftNames[0], itemStyle: {color: '#000000'}, lineStyle: {color: '#000000', width: 13, type: 'solid', opacity: 1}},
     {name: legendLeftNames[1], itemStyle: {color: '#00008b'}, lineStyle: {color: '#00008b', width: 13, type: 'solid', opacity: 1}}]},
  {left: 943, top: 1577, padding: 0, itemWidth: 41, itemHeight: 13, icon: 'rect', selectedMode: false, z: 5,
   textStyle: legTxt(16),
   data: [{name: legendRightNames[0], itemStyle: {color: '#000000'}, lineStyle: {color: '#000000', width: 13, type: 'solid', opacity: 1}}]},
  {left: 1188, top: 1566, padding: 0, itemWidth: 49, itemHeight: 49, icon: 'rect', selectedMode: false, z: 5,
   textStyle: legTxt(11),
   data: [{name: legendRightNames[1], itemStyle: {color: '#bebebe', opacity: 1}}]}
];

const chart = echarts.init(document.getElementById('c'), null, {renderer: 'canvas', width: 1630, height: 1618});
chart.setOption({
  backgroundColor: '#ffffff',
  animation: false,
  textStyle: {fontFamily: FONT},
  grid: grids, xAxis: xAxes, yAxis: yAxes, series: series,
  legend: legends, graphic: graphics
});
</script></body></html>
